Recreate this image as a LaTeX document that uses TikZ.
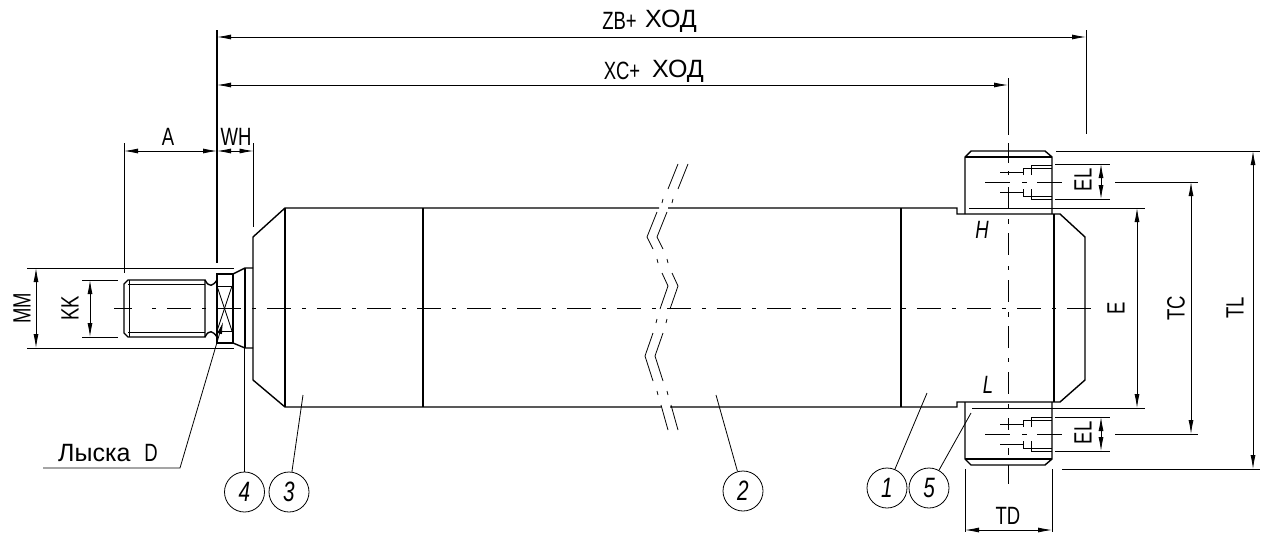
\documentclass[tikz,border=0pt]{standalone}
\usepackage{fontspec}
\usepackage{tikz}
\usetikzlibrary{arrows.meta}
\setmainfont{Liberation Sans}
\newfontfamily\cadfont[FakeStretch=0.74]{Liberation Sans}
\tikzset{
	outline/.style = {line width = 1.4pt},
	thinline/.style = {line width = 0.8pt},
	axisline/.style = {line width = 0.8pt, dash pattern = on 24pt off 11pt on 4pt off 11pt},
	dimline/.style = {line width = 0.8pt, {Latex[length = 14pt, width = 5pt]}-{Latex[length = 14pt, width = 5pt]}},
	dimtext/.style = {font = \cadfont\fontsize{25}{25}\selectfont, inner sep = 0pt},
	hodtext/.style = {font = \fontsize{25}{25}\selectfont, inner sep = 0pt, right = 0pt},
	marktext/.style = {font = \itshape\cadfont\fontsize{25}{25}\selectfont, inner sep = 0pt},
	balloon/.style = {draw, circle, line width = 0.8pt, minimum size = 40pt, inner sep = 0pt, font = \itshape\cadfont\fontsize{28}{28}\selectfont}
}
\begin{document}
\begin{tikzpicture}[x = 1pt, y = -1pt]
		\useasboundingbox (0, 0) rectangle (1266, 533);
		% body
		\draw[outline] (659, 208) -- (285, 208) -- (253, 237) -- (253, 380) -- (285, 407) -- (661, 407);
		\draw[outline] (668, 208) -- (957, 208) -- (957, 214) -- (1060, 214) -- (1085, 237) -- (1085, 380) -- (1060, 402) -- (957, 402) -- (957, 407) -- (670, 407);
		\foreach \x in {285, 423, 901}
			\draw[outline] (\x, 208) -- (\x, 407);
		\draw[outline] (1054, 214) -- (1054, 402);
		% rod
		\draw[outline] (205, 280) -- (128, 280) -- (124, 284) -- (124, 333) -- (128, 337) -- (205, 337) -- cycle;
		\draw[thinline] (129, 280) -- (129, 337);
		\draw[thinline] (128, 284) -- (205, 284);
		\draw[thinline] (128, 332) -- (205, 332);
		\draw[outline] (205, 280) .. controls (209, 288) and (213, 286) .. (217, 280);
		\draw[outline] (205, 337) .. controls (209, 329) and (213, 331) .. (217, 337);
		\draw[outline] (217, 274) rectangle (233, 343);
		\draw[thinline] (217, 286) rectangle (232, 331);
		\draw[thinline] (217, 286) -- (232, 331);
		\draw[thinline] (232, 286) -- (217, 331);
		\draw[outline] (233, 274) -- (245, 268) -- (253, 268);
		\draw[outline] (233, 343) -- (245, 348) -- (253, 348);
		\draw[outline] (245, 268) -- (245, 348);
		% trunnions
		\draw[outline] (965, 214) -- (965, 157) -- (971, 151) -- (1045, 151) -- (1052, 157) -- (1052, 214);
		\draw[outline] (965, 157) -- (1052, 157);
		\draw[outline] (965, 402) -- (965, 459) -- (971, 465) -- (1045, 465) -- (1052, 459) -- (1052, 402);
		\draw[outline] (965, 459) -- (1052, 459);
		\foreach \y/\s in {182/1, 434/1, 182/-1, 434/-1} {
			\draw[thinline] (1000, \y + \s * 10) -- (1023, \y + \s * 10);
			\draw[thinline] (1023, \y + \s * 7) -- (1023, \y + \s * 14);
			\draw[thinline] (1023, \y + \s * 14) -- (1052, \y + \s * 14);
			\draw[thinline] (1031, \y + \s * 7) -- (1031, \y + \s * 17);
			\draw[thinline] (1031, \y + \s * 17) -- (1052, \y + \s * 17);
		}
		% axes
		\draw[thinline] (114, 308) -- (132, 308);
		\draw[thinline] (152, 308) -- (156, 308);
		\draw[axisline] (167, 308) -- (1096, 308);
		\foreach \a/\b in {143/163, 171/175, 187/208, 219/224, 233/255, 266/270, 280/302, 312/317, 326/348, 358/362, 372/394, 404/408, 418/430, 448/455, 465/484}
			\draw[thinline] (1008, \a) -- (1008, \b);
		\draw[thinline, dash pattern = on 25pt off 12pt on 5pt off 10pt] (985, 182) -- (1063, 182);
		\draw[thinline, dash pattern = on 25pt off 12pt on 5pt off 10pt] (985, 434) -- (1063, 434);
		% break lines
		\foreach \d in {0, 10} {
			\draw[thinline] (678 + \d, 164) -- (668 + \d, 189);
			\draw[thinline] (663 + \d, 199) -- (662 + \d, 203);
			\draw[thinline] (657 + \d, 212) -- (647 + \d, 237) -- (653 + \d, 249);
			\draw[thinline] (657 + \d, 259) -- (658 + \d, 263);
			\draw[thinline] (662 + \d, 273) -- (668 + \d, 286) -- (660 + \d, 309);
			\draw[thinline] (657 + \d, 319) -- (656 + \d, 323);
			\draw[thinline] (653 + \d, 333) -- (645 + \d, 356) -- (653 + \d, 381);
			\draw[thinline] (657 + \d, 391) -- (658 + \d, 395);
			\draw[thinline] (661 + \d, 405) -- (668 + \d, 430);
		}
		% extension lines
		\draw[outline] (217, 30) -- (217, 263);
		\draw[thinline] (1086, 30) -- (1086, 134);
		\draw[thinline] (1008, 78) -- (1008, 135);
		\draw[thinline] (124, 143) -- (124, 273);
		\draw[thinline] (253.5, 143) -- (253.5, 227);
		\foreach \y in {268, 348}
			\draw[thinline] (27, \y) -- (234, \y);
		\foreach \y in {280, 337}
			\draw[thinline] (82, \y) -- (118, \y);
		\draw[thinline] (969, 208) -- (1145, 208);
		\draw[thinline] (972, 408) -- (1145, 408);
		\draw[thinline] (1056, 151) -- (1260, 151);
		\draw[thinline] (1062, 469) -- (1260, 469);
		\foreach \y in {164, 199, 417, 451}
			\draw[thinline] (1055, \y) -- (1110, \y);
		\foreach \y in {182, 434}
			\draw[thinline] (1115, \y) -- (1198, \y);
		\foreach \x in {965, 1052}
			\draw[thinline] (\x, 469) -- (\x, 532);
		% dimensions
		\draw[dimline] (217, 37) -- (1086, 37);
		\draw[dimline] (217, 85) -- (1008, 85);
		\draw[dimline] (124, 151) -- (217, 151);
		\draw[dimline] (217, 151) -- (253.5, 151);
		\draw[dimline] (36, 268) -- (36, 348);
		\draw[dimline] (90, 280) -- (90, 337);
		\draw[dimline] (1101, 164) -- (1101, 199);
		\draw[dimline] (1101, 417) -- (1101, 451);
		\draw[dimline] (1137, 208) -- (1137, 408);
		\draw[dimline] (1191, 182) -- (1191, 434);
		\draw[dimline] (1253, 151) -- (1253, 469);
		\draw[dimline] (965, 530) -- (1052, 530);
		% labels
		\node[dimtext] (zbtext) at (619.5, 21) {ZB+};
		\node[hodtext] (zbhod) at (645, 21) {ХОД};
		\node[dimtext] (xctext) at (622, 71) {XC+};
		\node[hodtext] (xchod) at (652, 71) {ХОД};
		\node[dimtext] (atext) at (168, 137) {A};
		\node[dimtext] (whtext) at (236, 137) {WH};
		\node[dimtext, rotate = 90] (mmtext) at (22, 308) {MM};
		\node[dimtext, rotate = 90] (kktext) at (70, 308) {KK};
		\node[dimtext, rotate = 90] (eltop) at (1083, 180) {EL};
		\node[dimtext, rotate = 90] (elbot) at (1083, 433) {EL};
		\node[dimtext, rotate = 90] (etext) at (1116, 308) {E};
		\node[dimtext, rotate = 90] (tctext) at (1176, 308) {TC};
		\node[dimtext, rotate = 90] (tltext) at (1235, 308) {TL};
		\node[dimtext] (tdtext) at (1008, 516) {TD};
		\node[marktext] (htext) at (982, 230) {H};
		\node[marktext] (ltext) at (988, 385) {L};
		\node[hodtext, font = \fontsize{25}{25}\selectfont] (lyska) at (58, 453) {Лыска\hspace{14pt}\cadfont D};
		% leaders
		\node[balloon] (pos4) at (244.5, 492) {4};
		\node[balloon] (pos3) at (289, 492) {3};
		\node[balloon] (pos2) at (743, 491) {2};
		\node[balloon] (pos1) at (887, 488) {1};
		\node[balloon] (pos5) at (929, 488) {5};
		\coordinate (lead4) at (244.5, 348);
		\coordinate (lead3) at (303, 395);
		\coordinate (lead2) at (716, 395);
		\coordinate (lead1) at (927, 393);
		\coordinate (lead5) at (971, 413);
		\foreach \n in {1, ..., 5}
			\draw[thinline] (pos\n) -- (lead\n);
		\draw[thinline, -{Latex[length = 12pt, width = 5pt]}] (43, 468) -- (180, 468) -- (223, 322);
\end{tikzpicture}
\end{document}
